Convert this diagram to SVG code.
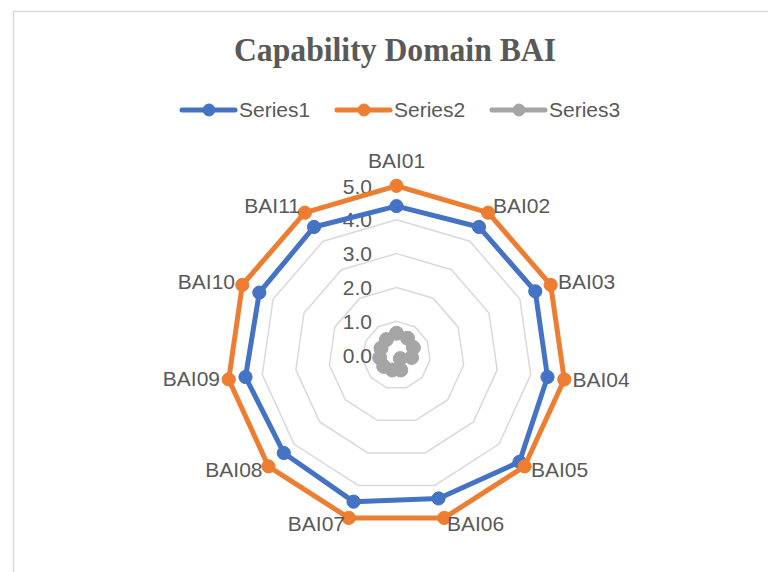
<svg xmlns="http://www.w3.org/2000/svg" width="768" height="572" viewBox="0 0 768 572">
  <style>
    .frame { fill: #ffffff; stroke: #d9d9d9; stroke-width: 1.5; }
    .title { font-family: "Liberation Serif", "Times New Roman", serif; font-weight: bold; font-size: 33px; fill: #595959; }
    .lbl { font-family: "Liberation Sans", Arial, sans-serif; font-size: 21px; fill: #595959; }
    .tick { font-family: "Liberation Sans", Arial, sans-serif; font-size: 21px; fill: #595959; text-anchor: end; }
    .ring { fill: none; stroke: #d9d9d9; stroke-width: 1.5; }
    .s1 { stroke: #4472c4; fill: #4472c4; }
    .s2 { stroke: #ed7d31; fill: #ed7d31; }
    .s3 { stroke: #a5a5a5; fill: #a5a5a5; }
    .line { fill: none; stroke-width: 5; stroke-linejoin: round; stroke-linecap: round; }
    .s3 .line { stroke-width: 6; }
  </style>

  <!-- chart area frame -->
  <rect class="frame" x="13.5" y="11.5" width="770" height="580"/>

  <text class="title" x="395" y="61" text-anchor="middle" textLength="322" lengthAdjust="spacingAndGlyphs">Capability Domain BAI</text>

  <!-- legend -->
  <g id="legend">
    <g id="legend-series1">
      <line class="s1" x1="182" y1="110" x2="235" y2="110" stroke-width="5" stroke-linecap="round"/>
      <circle class="s1" cx="209" cy="110" r="6"/>
      <text class="lbl" x="239" y="117">Series1</text>
    </g>
    <g id="legend-series2">
      <line class="s2" x1="337" y1="110" x2="390" y2="110" stroke-width="5" stroke-linecap="round"/>
      <circle class="s2" cx="364" cy="110" r="6"/>
      <text class="lbl" x="394" y="117">Series2</text>
    </g>
    <g id="legend-series3">
      <line class="s3" x1="492" y1="110" x2="545" y2="110" stroke-width="5" stroke-linecap="round"/>
      <circle class="s3" cx="519" cy="110" r="6"/>
      <text class="lbl" x="549" y="117">Series3</text>
    </g>
  </g>

  <!-- radial grid (levels 1 to 5) -->
  <g id="grid">
    <polygon class="ring" points="396.5,321.4 414.83,326.78 427.34,341.22 430.05,360.12 422.12,377.5 406.05,387.83 386.95,387.83 370.88,377.5 362.95,360.12 365.66,341.22 378.17,326.78"/>
    <polygon class="ring" points="396.5,287.5 433.15,298.26 458.17,327.14 463.61,364.95 447.74,399.7 415.6,420.35 377.4,420.35 345.26,399.7 329.39,364.95 334.83,327.14 359.85,298.26"/>
    <polygon class="ring" points="396.5,253.6 451.48,269.74 489.01,313.05 497.16,369.77 473.35,421.9 425.15,452.88 367.85,452.88 319.65,421.9 295.84,369.77 303.99,313.05 341.52,269.74"/>
    <polygon class="ring" points="396.5,219.7 469.81,241.22 519.84,298.97 530.72,374.6 498.97,444.1 434.7,485.41 358.3,485.41 294.03,444.1 262.28,374.6 273.16,298.97 323.19,241.22"/>
    <polygon class="ring" points="396.5,185.8 488.13,212.7 550.68,284.89 564.27,379.42 524.59,466.31 444.25,517.94 348.75,517.94 268.41,466.31 228.73,379.42 242.32,284.89 304.87,212.7"/>
  </g>

  <!-- value axis labels -->
  <g id="value-axis">
    <text class="tick" x="372" y="193.5">5.0</text>
    <text class="tick" x="372" y="227">4.0</text>
    <text class="tick" x="372" y="261">3.0</text>
    <text class="tick" x="372" y="295">2.0</text>
    <text class="tick" x="372" y="328.5">1.0</text>
    <text class="tick" x="372" y="362.5">0.0</text>
  </g>

  <!-- data series -->
  <g id="series">
    <g id="series1" class="s1">
      <polygon class="line" points="396.5,206.1 478.97,226.96 535.26,291.3 547.5,377 519.47,461.87 438.52,498.42 353.53,501.67 283.78,452.98 245.5,377 259.3,292.6 314.03,226.96"/>
      <circle cx="396.5" cy="206.1" r="6.6"/>
      <circle cx="478.97" cy="226.96" r="6.6"/>
      <circle cx="535.26" cy="291.3" r="6.6"/>
      <circle cx="547.5" cy="377" r="6.6"/>
      <circle cx="519.47" cy="461.87" r="6.6"/>
      <circle cx="438.52" cy="498.42" r="6.6"/>
      <circle cx="353.53" cy="501.67" r="6.6"/>
      <circle cx="283.78" cy="452.98" r="6.6"/>
      <circle cx="245.5" cy="377" r="6.6"/>
      <circle cx="259.3" cy="292.6" r="6.6"/>
      <circle cx="314.03" cy="226.96" r="6.6"/>
    </g>
    <g id="series2" class="s2">
      <polygon class="line" points="396.5,185.8 488.13,212.7 550.68,284.89 564.27,379.42 524.59,466.31 444.25,517.94 348.75,517.94 268.41,466.31 228.73,379.42 242.32,284.89 304.87,212.7"/>
      <circle cx="396.5" cy="185.8" r="6.6"/>
      <circle cx="488.13" cy="212.7" r="6.6"/>
      <circle cx="550.68" cy="284.89" r="6.6"/>
      <circle cx="564.27" cy="379.42" r="6.6"/>
      <circle cx="524.59" cy="466.31" r="6.6"/>
      <circle cx="444.25" cy="517.94" r="6.6"/>
      <circle cx="348.75" cy="517.94" r="6.6"/>
      <circle cx="268.41" cy="466.31" r="6.6"/>
      <circle cx="228.73" cy="379.42" r="6.6"/>
      <circle cx="242.32" cy="284.89" r="6.6"/>
      <circle cx="304.87" cy="212.7" r="6.6"/>
    </g>
    <g id="series3" class="s3">
      <polygon class="line" points="396.5,333.3 407.5,338.2 413.4,347.6 411.6,357.5 400.3,358.6 400.8,370 392.2,370 383.7,366.4 379.7,357.7 381,348.2 386.4,339.6"/>
      <circle cx="396.5" cy="333.3" r="7"/>
      <circle cx="407.5" cy="338.2" r="7"/>
      <circle cx="413.4" cy="347.6" r="7"/>
      <circle cx="411.6" cy="357.5" r="7"/>
      <circle cx="400.3" cy="358.6" r="7"/>
      <circle cx="400.8" cy="370" r="7"/>
      <circle cx="392.2" cy="370" r="7"/>
      <circle cx="383.7" cy="366.4" r="7"/>
      <circle cx="379.7" cy="357.7" r="7"/>
      <circle cx="381" cy="348.2" r="7"/>
      <circle cx="386.4" cy="339.6" r="7"/>
    </g>
  </g>

  <!-- category axis labels -->
  <g id="categories">
    <g id="BAI01"><text class="lbl" x="396.5" y="168" text-anchor="middle">BAI01</text></g>
    <g id="BAI02"><text class="lbl" x="493" y="213">BAI02</text></g>
    <g id="BAI03"><text class="lbl" x="558" y="288.5">BAI03</text></g>
    <g id="BAI04"><text class="lbl" x="572.5" y="387">BAI04</text></g>
    <g id="BAI05"><text class="lbl" x="531" y="477">BAI05</text></g>
    <g id="BAI06"><text class="lbl" x="447" y="531">BAI06</text></g>
    <g id="BAI07"><text class="lbl" x="345" y="531" text-anchor="end">BAI07</text></g>
    <g id="BAI08"><text class="lbl" x="262.5" y="477" text-anchor="end">BAI08</text></g>
    <g id="BAI09"><text class="lbl" x="220" y="386" text-anchor="end">BAI09</text></g>
    <g id="BAI10"><text class="lbl" x="235" y="288.5" text-anchor="end">BAI10</text></g>
    <g id="BAI11"><text class="lbl" x="300" y="213" text-anchor="end">BAI11</text></g>
  </g>
</svg>
